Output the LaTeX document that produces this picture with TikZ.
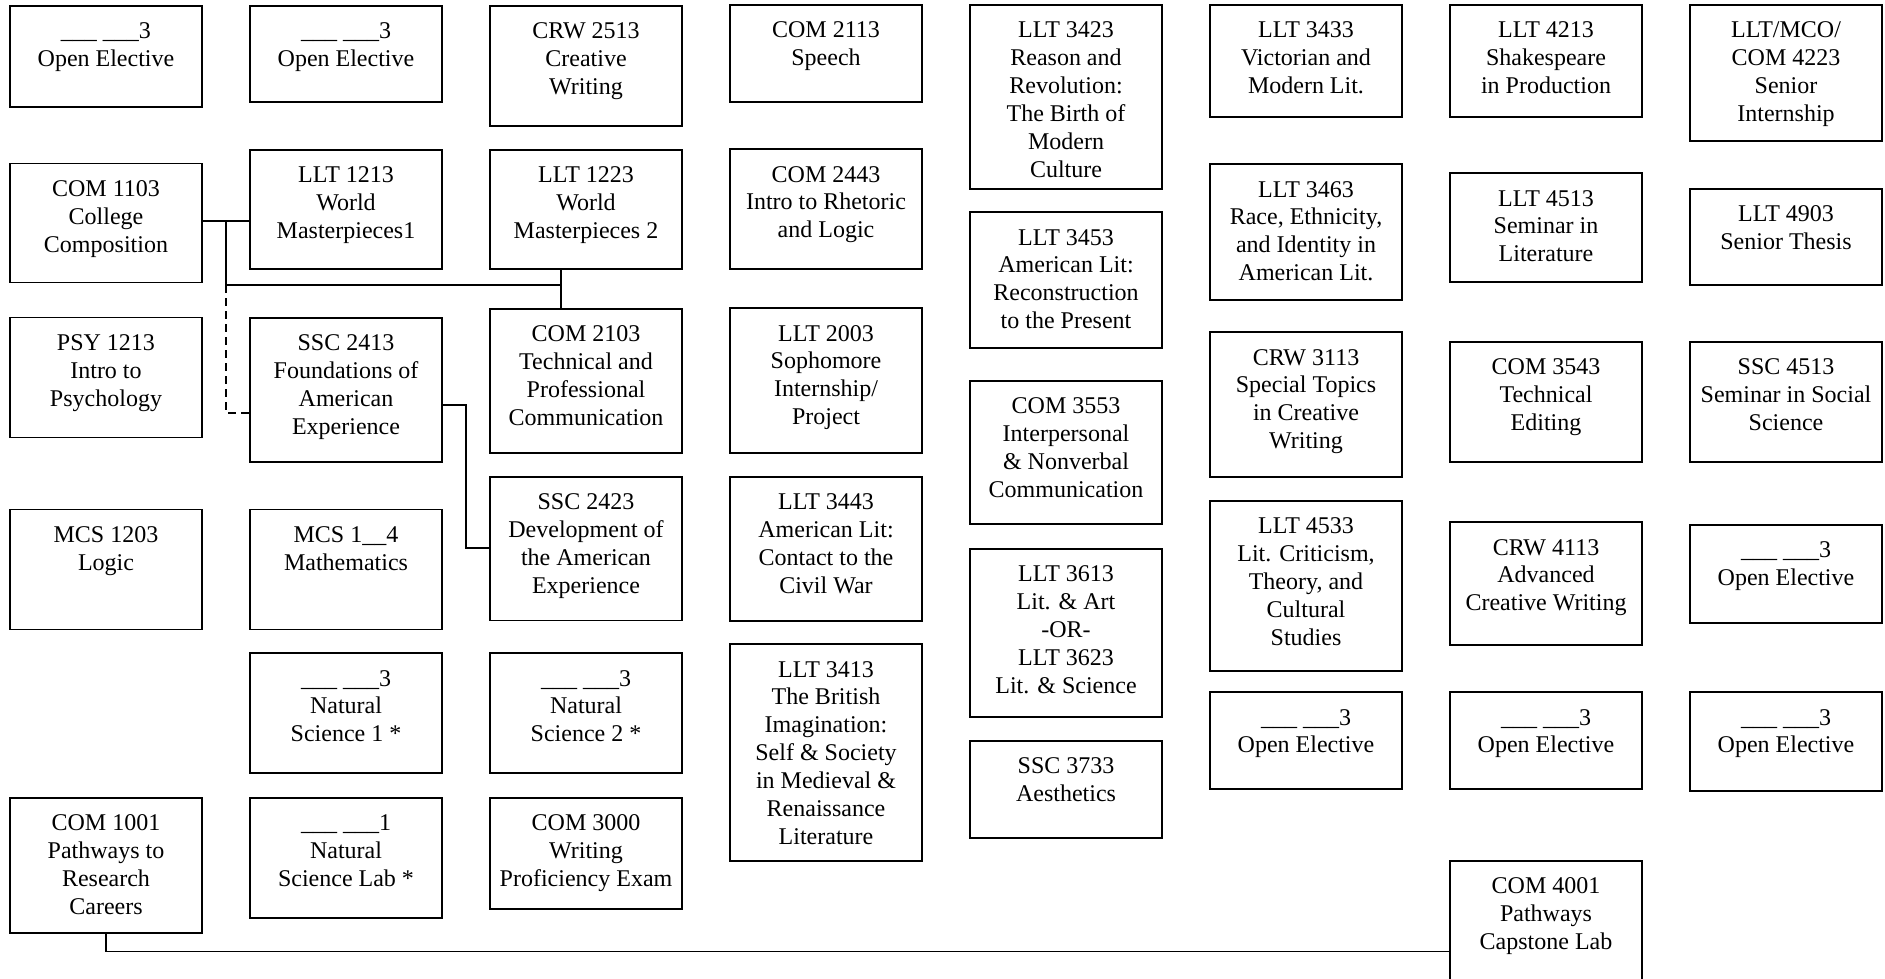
\documentclass[tikz,border=0pt]{standalone}
\usepackage{fontspec}
\setmainfont{Liberation Serif}
\tikzset{
  box/.style={draw, line width=1.8pt, inner sep=0pt, outer sep=0pt, anchor=north west, fill=white},
  conn/.style={line width=1.5pt},
  dashconn/.style={line width=1.5pt, dash pattern=on 8pt off 5pt}
}
\newcommand\course[5]{%
  \node[box] (#1) at (#2,#3) {\begin{minipage}[t][\dimexpr#4pt-#3pt\relax][t]{192pt}\centering\rule{0pt}{32.7pt}#5\end{minipage}};}
\begin{document}
\begin{tikzpicture}[x=1pt, y=-1pt, font=\fontsize{24}{27.9}\selectfont]
\useasboundingbox (0,0) rectangle (1885,978);
\clip (0,0) rectangle (1885,978);
\fill[white] (0,0) rectangle (1885,978);
% column 1
\course{oeA}{10}{6}{107}{\_\_\_ \_\_\_3\\Open Elective}
\course{com1103}{10}{163.5}{282.5}{COM 1103\\College\\Composition}
\course{psy1213}{10}{317.5}{437.5}{PSY 1213\\Intro to\\Psychology}
\course{mcs1203}{10}{509.5}{629.5}{MCS 1203\\Logic}
\course{com1001}{10}{797.7}{932.7}{COM 1001\\Pathways to\\Research\\Careers}
% column 2
\course{oeB}{250}{6}{102}{\_\_\_ \_\_\_3\\Open Elective}
\course{llt1213}{250}{150}{269.3}{LLT 1213\\World\\Masterpieces1}
\course{ssc2413}{250}{317.7}{461.7}{SSC 2413\\Foundations of\\American\\Experience}
\course{mcs14}{250}{509.5}{629.5}{MCS 1\_\_4\\Mathematics}
\course{ns1}{250}{653.3}{773.3}{\_\_\_ \_\_\_3\\Natural\\Science 1 *}
\course{nslab}{250}{797.7}{917.7}{\_\_\_ \_\_\_1\\Natural\\Science Lab *}
% column 3
\course{crw2513}{490}{6}{126}{CRW 2513\\Creative\\Writing}
\course{llt1223}{490}{150}{269.3}{LLT 1223\\World\\Masterpieces 2}
\course{com2103}{490}{309}{452.7}{COM 2103\\Technical and\\Professional\\Communication}
\course{ssc2423}{490}{476.6}{620.5}{SSC 2423\\Development of\\the American\\Experience}
\course{ns2}{490}{653.3}{773.3}{\_\_\_ \_\_\_3\\Natural\\Science 2 *}
\course{com3000}{490}{797.7}{909}{COM 3000\\Writing\\Proficiency Exam}
% column 4
\course{com2113}{730}{5}{101.7}{COM 2113\\Speech}
\course{com2443}{730}{149.3}{269.3}{COM 2443\\Intro to Rhetoric\\and Logic}
\course{llt2003}{730}{308.3}{452.7}{LLT 2003\\Sophomore\\Internship/\\Project}
\course{llt3443}{730}{476.6}{621}{LLT 3443\\American Lit:\\Contact to the\\Civil War}
\course{llt3413}{730}{644.3}{861}{LLT 3413\\The British\\Imagination:\\Self \& Society\\in Medieval \&\\Renaissance\\Literature}
% column 5
\course{llt3423}{970}{5}{189}{LLT 3423\\Reason and\\Revolution:\\The Birth of\\Modern\\Culture}
\course{llt3453}{970}{212.3}{348.3}{LLT 3453\\American Lit:\\Reconstruction\\to the Present}
\course{com3553}{970}{380.7}{524.3}{COM 3553\\Interpersonal\\\& Nonverbal\\Communication}
\course{llt3613}{970}{549}{716.7}{LLT 3613\\Lit. \& Art\\-OR-\\LLT 3623\\Lit. \& Science}
\course{ssc3733}{970}{741}{837.7}{SSC 3733\\Aesthetics}
% column 6
\course{llt3433}{1210}{5}{116.7}{LLT 3433\\Victorian and\\Modern Lit.}
\course{llt3463}{1210}{164.3}{300}{LLT 3463\\Race, Ethnicity,\\and Identity in\\American Lit.}
\course{crw3113}{1210}{332.3}{476.7}{CRW 3113\\Special Topics\\in Creative\\Writing}
\course{llt4533}{1210}{500.7}{671}{LLT 4533\\Lit. Criticism,\\Theory, and\\Cultural\\Studies}
\course{oeC}{1210}{692.3}{789}{\_\_\_ \_\_\_3\\Open Elective}
% column 7
\course{llt4213}{1450}{5}{116.7}{LLT 4213\\Shakespeare\\in Production}
\course{llt4513}{1450}{173.3}{282}{LLT 4513\\Seminar in\\Literature}
\course{com3543}{1450}{341.7}{461.7}{COM 3543\\Technical\\Editing}
\course{crw4113}{1450}{522.3}{645}{CRW 4113\\Advanced\\Creative Writing}
\course{oeD}{1450}{692.3}{789}{\_\_\_ \_\_\_3\\Open Elective}
\course{com4001}{1450}{860.7}{1000}{COM 4001\\Pathways\\Capstone Lab}
% column 8
\course{llt4223}{1690}{5}{140.7}{LLT/MCO/\\COM 4223\\Senior\\Internship}
\course{llt4903}{1690}{189}{285}{LLT 4903\\Senior Thesis}
\course{ssc4513}{1690}{341.7}{461.7}{SSC 4513\\Seminar in Social\\Science}
\course{oeE}{1690}{525}{623}{\_\_\_ \_\_\_3\\Open Elective}
\course{oeF}{1690}{692.3}{791}{\_\_\_ \_\_\_3\\Open Elective}
% connectors
\coordinate (ja) at (226,221);
\coordinate (jb) at (226,285);
\coordinate (jc) at (561,285);
\coordinate (jd) at (226,413);
\draw[conn] (com1103.east |- ja) -- (llt1213.west |- ja);
\draw[conn] (ja) -- (jb) -- (jc);
\draw[conn] (llt1223.south -| jc) -- (com2103.north -| jc);
\draw[dashconn] (jb) -- (jd) -- (ssc2413.west |- jd);
\coordinate (ka) at (466,405);
\coordinate (kb) at (466,548);
\draw[conn] (ssc2413.east |- ka) -- (ka) -- (kb) -- (ssc2423.west |- kb);
\coordinate (la) at (106,951.7);
\draw[conn] (com1001.south) -- (com1001.south |- la) -- (com4001.west |- la);
\end{tikzpicture}
\end{document}
